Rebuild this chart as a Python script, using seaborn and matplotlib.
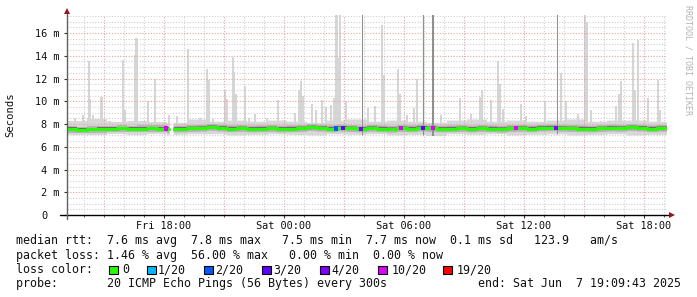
import numpy as np
import pandas as pd
import matplotlib
matplotlib.use("Agg")
import matplotlib.pyplot as plt
import seaborn as sns
from matplotlib.patches import Rectangle
from matplotlib.transforms import ScaledTranslation

# ---------------- data ----------------
start_hour = 13 + 9 / 60 + 43 / 3600      # Fri 13:09:43 (hours since Fri 00:00)
span_hours = 30
step_minutes = 5

# median rtt (ms), one value per 30 minutes
median_ms = [7.55, 7.50, 7.52, 7.56, 7.58, 7.62, 7.58, 7.60, 7.63, 7.60,
             7.57, 7.58, 7.62, 7.64, 7.72, 7.66, 7.60, 7.62, 7.58, 7.60,
             7.62, 7.58, 7.60, 7.62, 7.70, 7.64, 7.60, 7.66, 7.62, 7.58,
             7.64, 7.60, 7.55, 7.62, 7.60, 7.66, 7.62, 7.58, 7.60, 7.62,
             7.58, 7.62, 7.60, 7.56, 7.62, 7.64, 7.60, 7.66, 7.68, 7.64,
             7.62, 7.60, 7.58, 7.62, 7.66, 7.64, 7.70, 7.66, 7.60, 7.64]

# smoke envelope (ms), one value per hour
band_hi_ms = [8.3, 8.4, 8.2, 8.3, 8.2, 8.1, 8.4, 8.2, 8.3, 8.2,
              8.3, 8.2, 8.1, 8.3, 8.4, 8.2, 8.3, 8.2, 8.1, 8.3,
              8.4, 8.2, 8.3, 8.2, 8.3, 8.4, 8.2, 8.3, 8.3, 8.2]
band_lo_ms = [7.00, 7.05, 7.10, 7.00, 7.10, 7.05, 7.10, 7.10, 7.00, 7.05,
              7.10, 7.05, 7.00, 7.10, 7.05, 7.10, 7.00, 7.05, 6.95, 7.10,
              7.05, 7.10, 7.00, 7.05, 7.10, 7.00, 7.05, 7.10, 7.00, 7.05]

# ping spikes (hour of day since Fri 00:00, max rtt ms)
spike_hours = [13.56, 13.96, 14.26, 14.31, 14.46, 14.90, 15.30, 15.96, 16.06, 16.56,
               16.64, 17.21, 17.56, 18.26, 18.66, 19.21, 19.81, 20.16, 20.23, 20.46,
               21.06, 21.16, 21.46, 21.51, 21.61, 22.06, 22.26, 22.56, 23.16, 23.71,
               24.56, 24.76, 24.86, 24.96, 25.41, 25.61, 25.91, 26.11, 26.36, 26.51,
               26.65, 26.71, 26.81, 27.11, 28.21, 28.56, 28.91, 29.01, 29.71, 29.81,
               30.16, 30.51, 30.66, 31.86, 32.81, 33.36, 33.81, 33.91, 34.36, 34.71,
               34.81, 34.96, 35.86, 36.11, 37.06, 37.86, 38.11, 38.71, 39.06, 39.16,
               39.36, 39.86, 40.61, 40.76, 40.86, 41.46, 41.56, 41.71, 42.21, 42.71,
               42.81]
spike_ms = [8.5, 8.8, 13.5, 10.2, 8.8, 10.4, 8.3, 13.6, 9.2, 14.1,
            15.6, 10.0, 12.0, 8.8, 8.7, 14.6, 8.5, 12.8, 11.9, 8.4,
            11.0, 10.2, 13.9, 12.6, 10.6, 11.3, 8.5, 8.9, 8.5, 10.1,
            9.0, 11.0, 11.75, 10.5, 9.8, 9.2, 10.1, 9.5, 9.7, 10.3,
            18.0, 13.8, 18.0, 10.0, 9.4, 9.6, 16.7, 12.3, 12.8, 10.6,
            8.8, 9.4, 12.0, 8.8, 10.3, 8.9, 10.4, 11.0, 10.1, 13.5,
            11.5, 9.3, 9.8, 8.7, 10.0, 12.5, 10.0, 8.9, 18.0, 17.0,
            9.2, 8.3, 9.6, 10.6, 11.8, 15.1, 11.0, 15.4, 10.3, 11.9,
            9.2]
# samples where several pings went off the scale
tall_hours = [27.91, 30.96, 31.46, 37.66]
tall_width_px = [1.0, 1.2, 2.0, 1.0]
# samples with no data
missing_hours = [18.40, 18.48]
# samples with packet loss
loss_hours = [18.10, 26.61, 26.96, 27.86, 29.86, 30.96, 31.46, 35.65, 37.61]
loss_levels = ["10/20", "2/20", "3/20", "4/20", "10/20", "3/20", "10/20", "10/20", "4/20"]

loss_legend = ["0", "1/20", "2/20", "3/20", "4/20", "10/20", "19/20"]
loss_colors = ["#26ff00", "#00b8ff", "#0059ff", "#5e00ff", "#7e00ff", "#dd00ff", "#ff0000"]

x_tick_hours = [18, 24, 30, 36, 42]
x_tick_labels = ["Fri 18:00", "Sat 00:00", "Sat 06:00", "Sat 12:00", "Sat 18:00"]
y_tick_values = [0, 2, 4, 6, 8, 10, 12, 14, 16]
y_tick_labels = ["0", "2 m", "4 m", "6 m", "8 m", "10 m", "12 m", "14 m", "16 m"]

stat_lines = [
    "median rtt:  7.6 ms avg  7.8 ms max   7.5 ms min  7.7 ms now  0.1 ms sd   123.9   am/s",
    "packet loss: 1.46 % avg  56.00 % max   0.00 % min  0.00 % now",
]
loss_title = "loss color:"
probe_text = "probe:       20 ICMP Echo Pings (56 Bytes) every 300s"
end_text = "end: Sat Jun  7 19:09:43 2025"
y_title = "Seconds"
side_text = "RRDTOOL / TOBI OETIKER"

# ---------------- sample grid ----------------
n = span_hours * 60 // step_minutes
dt = step_minutes / 60
edges = start_hour + np.arange(n + 1) * dt
med = np.repeat(np.array(median_ms), n // len(median_ms)).astype(float)
hi = np.repeat(np.array(band_hi_ms), n // len(band_hi_ms)).astype(float)
lo = np.repeat(np.array(band_lo_ms), n // len(band_lo_ms)).astype(float)
for h in missing_hours:
    i = int((h - start_hour) / dt)
    med[i] = np.nan; hi[i] = np.nan; lo[i] = np.nan

def ext(a):
    return np.append(a, a[-1])

# ---------------- figure ----------------
W, H, DPI = 697, 297, 100
sns.set_style("white")
plt.rcParams["font.family"] = ["DejaVu Sans Mono", "DejaVu Sans"]
fig = plt.figure(figsize=(W / DPI, H / DPI), dpi=DPI, facecolor="white")
ax_l, ax_r, ax_b, ymax = 67, 667, 215, 17.6
px_per_ms = 11.375
ax_t = ax_b - ymax * px_per_ms
ax = fig.add_axes([ax_l / W, (H - ax_b) / H, (ax_r - ax_l) / W, (ax_b - ax_t) / H])
ax.set_xlim(start_hour, start_hour + span_hours)
ax.set_ylim(0, ymax)
ax.set_facecolor("white")
for s in ax.spines.values():
    s.set_visible(False)
px_h = span_hours / (ax_r - ax_l)   # hours per pixel

# grid
minor_c, major_c = "#d0d0d0", "#e8a3a3"
dots = (0, (1, 1.5))
for hh in range(14, 44):
    major = hh % 3 == 0
    ax.axvline(hh, color=major_c if major else minor_c, lw=0.8, ls=dots, zorder=2)
for yy in np.arange(0.5, 17.6, 0.5):
    major = abs(yy % 2) < 1e-9
    ax.axhline(yy, color=major_c if major else minor_c, lw=0.8, ls=dots, zorder=2)

# smoke
ax.fill_between(edges, ext(lo), ext(hi), step="post", color="#d8d8d8", lw=0, zorder=1)
lo_s = np.array([lo[int((h - start_hour) / dt)] for h in spike_hours])
ax.bar(spike_hours, np.array(spike_ms) - lo_s, bottom=lo_s, width=2.6 * px_h,
       color="#d6d6d6", lw=0, zorder=1)
ax.fill_between(edges, ext(med - 0.32), ext(med + 0.28), step="post",
                color="#b4b4b4", lw=0, zorder=3)
ax.fill_between(edges, ext(med - 0.15), ext(med + 0.15), step="post",
                color="#6e6e6e", lw=0, zorder=3.2)
for h, wpx in zip(tall_hours, tall_width_px):
    i = int((h - start_hour) / dt)
    ax.vlines(h, lo[i], ymax + 1, color="#8f8f8f", lw=wpx * 0.72, zorder=3.1)

# median line (seaborn), split at gaps
seg = np.cumsum(np.isnan(ext(med)))
df = pd.DataFrame({"t": edges, "rtt": ext(med), "seg": seg}).dropna()
sns.lineplot(data=df, x="t", y="rtt", units="seg", estimator=None, color=loss_colors[0],
             lw=2.2, drawstyle="steps-post", ax=ax, zorder=4, legend=False)

# loss markers
loss_idx = [int((h - start_hour) / dt) for h in loss_hours]
ldf = pd.DataFrame({"t": [edges[i] + dt / 2 for i in loss_idx],
                    "rtt": [np.nan_to_num(med[i], nan=7.6) for i in loss_idx],
                    "loss": loss_levels})
sns.scatterplot(data=ldf, x="t", y="rtt", hue="loss",
                palette=dict(zip(loss_legend, loss_colors)), marker="s", s=9,
                linewidth=0, ax=ax, zorder=5, legend=False)

# axes lines & arrows
ax.plot([-7 / 600, 1 + 2 / 600], [0, 0], color="black", lw=1.0,
        transform=ax.transAxes, clip_on=False, zorder=6)
ax.plot([0, 0], [-4 / (ax_b - ax_t), 1 + 4 / (ax_b - ax_t)], color="#606060", lw=1.0,
        transform=ax.transAxes, clip_on=False, zorder=6)
ax.plot([1 + 5 / 600], [0], marker=">", ms=5, color="#8b1a1a", mew=0,
        transform=ax.transAxes, clip_on=False, zorder=7)
ax.plot([0], [1 + 4 / (ax_b - ax_t)], marker="^", ms=5, color="#8b1a1a", mew=0,
        transform=ax.transAxes, clip_on=False, zorder=7)

# ticks
ax.set_xlabel(""); ax.set_ylabel("")
ax.set_xticks(x_tick_hours)
ax.set_xticklabels(x_tick_labels)
ax.set_xticks(list(range(14, 44)), minor=True)
ax.set_yticks(y_tick_values)
ax.set_yticklabels(y_tick_labels)
ax.tick_params(axis="x", which="major", length=2.5, width=0.8, color="#333333", pad=2,
               labelsize=7.4, labelcolor="#111111", direction="out", bottom=True)
ax.tick_params(axis="x", which="minor", length=1.5, width=0.7, color="#555555",
               direction="out", bottom=True)
ax.tick_params(axis="y", which="major", length=2.5, width=0.8, color="#333333", pad=3,
               labelsize=7.4, labelcolor="#111111", direction="out", left=True)
zero_lab = ax.get_yticklabels()[0]
zero_lab.set_transform(zero_lab.get_transform() + ScaledTranslation(-0.12, 0, fig.dpi_scale_trans))

# text
fig.text(10 / W, 1 - 115 / H, y_title, rotation=90, ha="center", va="center",
         fontsize=7.6, color="#111111")
fig.text(688 / W, 1 - 60 / H, side_text, rotation=270, ha="center", va="center",
         fontsize=6.0, color="#b4b4b4")

fs = 8.35
rows = [240.7, 255.0, 269.6, 283.7]
for txt, yy in zip(stat_lines, rows[:2]):
    fig.text(16 / W, 1 - yy / H, txt, ha="left", va="center", fontsize=fs, color="#111111")
fig.text(16 / W, 1 - rows[2] / H, loss_title, ha="left", va="center", fontsize=fs, color="#111111")
box_x = [109, 147, 204, 262, 320, 378, 443]
text_x = [122, 158, 215, 273, 331, 392, 457]
for bx, tx, lab, col in zip(box_x, text_x, loss_legend, loss_colors):
    fig.add_artist(Rectangle((bx / W, 1 - (rows[2] + 4.5) / H), 8.5 / W, 8.5 / H,
                             transform=fig.transFigure, fc=col, ec="black", lw=0.8))
    fig.text(tx / W, 1 - rows[2] / H, lab, ha="left", va="center", fontsize=fs, color="#111111")
fig.text(16 / W, 1 - rows[3] / H, probe_text, ha="left", va="center", fontsize=fs, color="#111111")
fig.text(478 / W, 1 - rows[3] / H, end_text, ha="left", va="center", fontsize=fs, color="#111111")

fig.savefig("out.png", dpi=DPI, facecolor="white")
